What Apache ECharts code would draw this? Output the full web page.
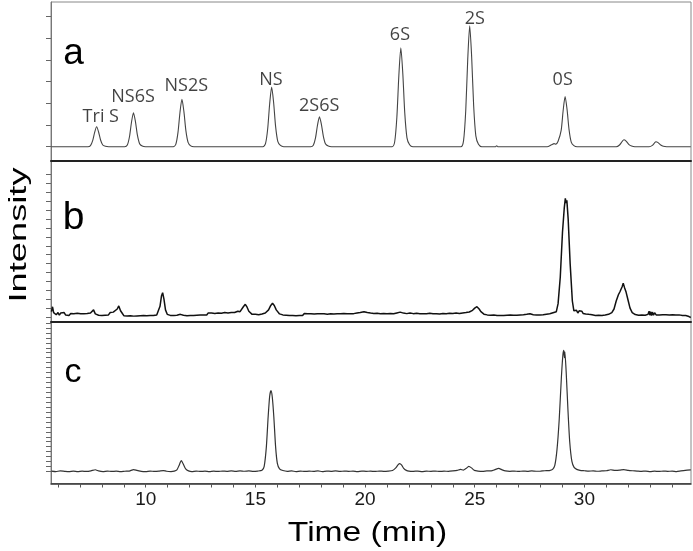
<!DOCTYPE html>
<html>
<head>
<meta charset="utf-8">
<script src="https://cdn.jsdelivr.net/npm/echarts@6.0.0/dist/echarts.min.js"></script>
<style>
html,body{margin:0;padding:0;background:#fff;}
#chart{width:693px;height:551px;}
</style>
</head>
<body>
<div id="chart"></div>
<script>
// ---- data (time in min, intensity in arbitrary units) ----
const xTickValues = [6,7,8,9,10,11,12,13,14,15,16,17,18,19,20,21,22,23,24,25,26,27,28,29,30,31,32,33,34];
const xTickLabels = [10,15,20,25,30];
const yTicksA = [0,10,20,30,40,50,60];
const yTicksB = [0,10,20,30,40,50,60,70,80,90,100,110,120,130,140,150,160];
const yTicksC = [0,5,10,15,20,25,30,35,40,45,50,55,60,65,70,75,80,85,90,95,100,105,110,115,120,125,130,135,140,145,150];

const peakNames  = ['Tri S','NS6S','NS2S','NS','2S6S','6S','2S','0S'];
const peakLabelT = [7.95,9.42,11.85,15.71,17.91,21.59,25.0,29.01];
const peakLabelV = [13.8,22.8,28.2,30.8,18.8,51.5,58.9,30.8];

const traceA = [
[5.7,0],[7.36,0],[7.48,0.5],[7.58,2.8],[7.67,6.6],[7.76,9.2],[7.85,6.8],[7.94,3.1],[8.04,0.8],[8.16,0.2],[8.31,0],
[9.04,0],[9.16,0.8],[9.26,4.7],[9.35,11.3],[9.44,15.7],[9.53,11.6],[9.62,5.3],[9.72,1.4],[9.84,0.3],[9.99,0],
[11.25,0],[11.37,1.1],[11.47,6.6],[11.56,15.8],[11.65,21.9],[11.74,16.2],[11.83,7.4],[11.93,2.0],[12.05,0.4],[12.2,0],
[15.34,0],[15.46,1.4],[15.56,8.3],[15.65,19.8],[15.74,27.5],[15.83,20.4],[15.92,9.4],[16.02,2.5],[16.14,0.6],[16.29,0],
[17.52,0],[17.64,0.7],[17.74,4.1],[17.83,9.9],[17.92,13.8],[18.01,10.2],[18.1,4.7],[18.2,1.2],[18.32,0.3],[18.47,0],
[21.23,0],[21.35,2.3],[21.45,13.7],[21.54,32.9],[21.63,45.7],[21.72,33.8],[21.81,15.5],[21.91,4.1],[22.03,0.9],[22.18,0],
[24.37,0],[24.49,2.8],[24.59,16.7],[24.68,40.2],[24.77,55.8],[24.86,41.3],[24.95,19.0],[25.05,5.0],[25.17,1.1],[25.32,0],
[25.95,0],[26.0,0.4],[26.05,0],
[28.3,0],[28.5,0.9],[28.62,1.4],[28.7,1.2],[28.8,2.5],[28.94,7.5],[29.03,16.6],[29.12,23.1],[29.21,17.1],[29.3,7.9],[29.4,2.1],[29.52,0.5],[29.67,0],
[31.45,0],[31.6,0.8],[31.72,2.4],[31.8,3.2],[31.9,2.6],[32.02,1.1],[32.15,0.3],[32.3,0],
[32.95,0],[33.1,0.6],[33.2,1.8],[33.26,2.3],[33.36,1.9],[33.48,0.8],[33.6,0.2],[33.75,0],[34.85,0]
];

const traceB = [
[5.7,6],[5.75,11.5],[5.8,5],[5.86,7],[5.92,2.5],[6.0,5],[6.06,2],[6.12,4.5],[6.2,3],[6.28,5],[6.35,2.2],[6.42,4.4],[6.5,1.6],[6.58,4],[6.65,2.4],[6.72,3.8],[6.8,1.8],[6.88,4.2],[6.95,2],[7.03,3.6],[7.1,1.5],[7.18,3.8],[7.25,2],[7.33,4],[7.4,2.2],[7.48,4.5],[7.55,6],[7.62,8],[7.7,3.5],[7.77,4.5],[7.85,2],[7.92,4],[8.0,1.6],[8.08,3.6],[8.15,2],[8.23,4.2],[8.3,2.4],[8.38,5],[8.45,3.2],[8.52,5.5],[8.6,5],[8.7,9],[8.77,12.5],[8.85,7],[8.92,4.5],[9.0,1.5],[9.08,3.5],[9.15,1.2],[9.23,3.2],[9.3,1.4],[9.38,3],[9.45,1],[9.53,2.8],[9.6,1.2],[9.68,3.2],[9.75,1.4],[9.83,3],[9.9,1.6],[9.98,3.4],[10.05,1.5],[10.13,3.2],[10.2,1.8],[10.28,3.6],[10.35,1.6],[10.43,3.4],[10.5,2.2],[10.58,4],[10.65,12],[10.72,24],[10.77,27.3],[10.83,20],[10.9,8],[10.98,3],[11.05,4.2],[11.12,1.8],[11.2,3.6],[11.28,1.6],[11.35,3.8],[11.42,2],[11.5,4],[11.58,3],[11.65,5],[11.72,2],[11.8,3.5],[11.88,1.4],[11.95,3.2],[12.03,1.6],[12.1,3.4],[12.18,1.8],[12.25,3.8],[12.33,2],[12.4,3.6],[12.48,2.2],[12.55,4],[12.63,2.4],[12.7,3.8],[12.78,2.2],[12.85,4.6],[12.93,3.2],[13.0,4.4],[13.08,2.4],[13.15,4],[13.23,2.6],[13.3,4.6],[13.38,2.8],[13.45,4.2],[13.53,3],[13.6,5],[13.68,3],[13.75,4.6],[13.83,3.2],[13.9,5.2],[13.98,3.6],[14.05,5],[14.13,4],[14.2,6.5],[14.3,6],[14.38,8],[14.45,11.5],[14.54,14.3],[14.62,11],[14.7,6.5],[14.78,5],[14.85,3],[14.93,4.6],[15.0,3],[15.08,4.4],[15.15,2.6],[15.23,4.4],[15.3,3.4],[15.38,5],[15.45,4.5],[15.53,6],[15.6,8],[15.7,13],[15.78,15.4],[15.86,13],[15.95,8],[16.02,6],[16.1,3.5],[16.18,4.6],[16.25,2.4],[16.33,4],[16.4,2],[16.48,3.6],[16.55,1.6],[16.63,3.8],[16.7,1.8],[16.78,3.4],[16.85,1.4],[16.93,3.6],[17.0,1.8],[17.08,3.2],[17.15,1.6],[17.23,4],[17.3,2],[17.38,3.6],[17.45,1.6],[17.53,3.8],[17.6,1.8],[17.68,3.4],[17.75,1.4],[17.83,3.8],[17.9,2],[17.98,3.6],[18.05,1.8],[18.13,3.6],[18.2,1.6],[18.28,3.2],[18.35,1.6],[18.43,3.6],[18.5,1.8],[18.58,3.4],[18.65,2],[18.73,3.8],[18.8,2],[18.88,3.6],[18.95,2.2],[19.03,4],[19.1,2.2],[19.18,3.8],[19.25,2.4],[19.33,3.6],[19.4,2],[19.48,3.8],[19.55,2.6],[19.63,4.4],[19.7,3.4],[19.78,5],[19.85,4.6],[19.95,6],[20.03,4],[20.1,5],[20.18,3],[20.25,4.4],[20.33,2.6],[20.4,4],[20.48,2.4],[20.55,4.2],[20.63,2.2],[20.7,3.6],[20.78,2],[20.85,4],[20.93,2.4],[21.0,3.8],[21.08,2.2],[21.15,4],[21.23,2.4],[21.3,3.6],[21.38,3],[21.45,4.6],[21.53,4],[21.6,5.5],[21.68,3.5],[21.75,4.4],[21.83,2.4],[21.9,3.8],[21.98,3],[22.05,4.6],[22.13,2.6],[22.2,3.8],[22.28,2.4],[22.35,4.2],[22.43,2.4],[22.5,3.8],[22.58,2.2],[22.65,3.8],[22.73,2.2],[22.8,3.6],[22.88,2.4],[22.95,4.2],[23.03,2.6],[23.1,3.8],[23.18,2.4],[23.25,3.8],[23.33,2],[23.4,3.4],[23.48,2.2],[23.55,4],[23.63,2.4],[23.7,3.6],[23.78,2.6],[23.85,4.2],[23.93,2.8],[24.0,4],[24.08,2.8],[24.15,4.4],[24.23,3],[24.3,4],[24.38,3.2],[24.45,4.6],[24.53,3.6],[24.6,5],[24.68,4.4],[24.75,5.6],[24.83,5.5],[24.9,7.5],[25.0,10],[25.1,11.6],[25.2,9],[25.28,6],[25.35,5],[25.42,3.2],[25.5,4.4],[25.57,2.4],[25.65,3.8],[25.72,2],[25.8,3.6],[25.87,2.2],[25.95,3.4],[26.02,1.6],[26.1,3.4],[26.17,1.8],[26.25,3.6],[26.32,1.6],[26.4,3.4],[26.47,2],[26.55,3.8],[26.62,2.2],[26.7,3.6],[26.77,2],[26.85,3.4],[26.92,2],[27.0,3.8],[27.07,2.4],[27.15,4],[27.22,2.6],[27.3,4.2],[27.37,3],[27.45,4.6],[27.52,3.6],[27.6,4.4],[27.67,2.6],[27.75,3.8],[27.82,2.2],[27.9,3.8],[27.97,2.4],[28.05,3.6],[28.12,2.6],[28.2,4],[28.27,3.2],[28.35,4.6],[28.42,3.6],[28.5,5.5],[28.57,4.8],[28.65,6.5],[28.72,6],[28.8,15],[28.9,45],[29.0,95],[29.08,122],[29.13,133.4],[29.17,128],[29.2,131],[29.26,110],[29.35,60],[29.45,18],[29.52,7],[29.58,5],[29.64,7.5],[29.7,4.5],[29.76,7],[29.82,5],[29.88,6.5],[29.94,4],[30.0,6],[30.06,3.5],[30.12,5.5],[30.2,3],[30.28,5],[30.35,2.5],[30.43,4],[30.5,1.8],[30.58,3.6],[30.65,2],[30.73,3.6],[30.8,1.8],[30.88,3.4],[30.95,2.2],[31.03,3.8],[31.1,3],[31.18,4.6],[31.25,5],[31.35,9],[31.45,18],[31.55,25],[31.62,28.4],[31.67,27],[31.72,34],[31.77,37.9],[31.83,33],[31.9,28],[31.98,20],[32.08,10],[32.18,5],[32.25,5],[32.32,2.8],[32.4,4.2],[32.47,2],[32.55,3.8],[32.62,2.2],[32.7,3.8],[32.77,2],[32.85,4],[32.9,3],[32.95,6.5],[32.98,2],[33.02,6],[33.06,1.5],[33.1,5.5],[33.15,2],[33.2,4.8],[33.27,2.4],[33.35,4],[33.42,2.4],[33.5,3.8],[33.57,2.6],[33.65,4],[33.72,2.6],[33.8,3.8],[33.87,2.4],[33.95,4],[34.02,2.6],[34.1,3.6],[34.17,2.2],[34.25,3.8],[34.32,2.4],[34.4,3.4],[34.47,1.8],[34.55,3.2],[34.62,1.6],[34.7,2.4],[34.77,0.5],[34.85,-0.5]
];

const traceC = [
[5.7,0.3],[5.9,-0.2],[6.1,0.4],[6.3,0],[6.5,-0.3],[6.7,0.3],[6.9,-0.2],[7.1,0.2],[7.3,-0.1],[7.5,0.5],[7.7,1.6],[7.85,0.4],[8.05,-0.2],[8.25,0.3],[8.45,-0.1],[8.65,0.2],[8.85,-0.3],[9.05,0.1],[9.25,0.3],[9.45,1.8],[9.6,1],[9.8,0],[10.0,-0.2],[10.2,0.3],[10.4,-0.1],[10.6,0.2],[10.8,0.8],[10.95,0.1],[11.15,-0.2],[11.3,0.2],[11.42,1.5],[11.52,6],[11.62,10.8],[11.72,7],[11.82,2.5],[11.95,0.5],[12.1,-0.2],[12.3,0.3],[12.5,-0.1],[12.7,0.2],[12.9,-0.3],[13.1,0.2],[13.3,-0.1],[13.5,0.3],[13.7,0],[13.9,0.4],[14.1,0],[14.3,0.5],[14.5,0.1],[14.7,0.4],[14.9,0],[15.1,0.3],[15.3,1],[15.4,5],[15.5,25],[15.58,55],[15.65,76],[15.71,81.7],[15.77,75],[15.84,55],[15.92,25],[16.0,8],[16.1,2.5],[16.25,0.8],[16.45,0],[16.65,0.4],[16.85,-0.2],[17.05,0.3],[17.25,-0.1],[17.45,0.2],[17.65,0],[17.85,0.4],[18.05,-0.2],[18.25,0.3],[18.45,0],[18.65,0.4],[18.85,-0.1],[19.05,0.3],[19.25,0],[19.45,0.2],[19.65,-0.2],[19.85,0.3],[20.05,0],[20.25,0.2],[20.45,-0.1],[20.65,0.3],[20.85,0],[21.05,0.2],[21.25,0.8],[21.4,3.5],[21.5,6.5],[21.58,7.8],[21.66,6.5],[21.76,3],[21.88,1],[22.0,0.2],[22.2,0],[22.4,0.3],[22.6,-0.2],[22.8,0.2],[23.0,0],[23.2,0.3],[23.4,-0.1],[23.6,0.2],[23.8,0],[24.0,0.4],[24.2,1],[24.35,2],[24.48,1.2],[24.6,2.8],[24.73,5],[24.85,3.5],[24.98,1],[25.15,0.3],[25.35,0],[25.55,0.4],[25.75,0.5],[25.9,1.5],[26.09,3],[26.25,1.5],[26.4,0.4],[26.6,0],[26.8,0.3],[27.0,-0.1],[27.2,0.3],[27.4,0],[27.6,0.4],[27.8,0.1],[28.0,0.3],[28.2,0.6],[28.4,0.8],[28.55,2],[28.65,6],[28.75,22],[28.85,52],[28.95,95],[29.02,118],[29.06,122.5],[29.09,115],[29.11,121],[29.17,100],[29.25,62],[29.33,30],[29.43,10],[29.53,4],[29.65,2],[29.8,1],[30.0,0.6],[30.2,0.2],[30.4,0.5],[30.6,0.1],[30.8,0.4],[31.0,0.6],[31.2,1.6],[31.4,1],[31.6,1.2],[31.8,1.8],[32.0,1],[32.2,0.6],[32.4,0.3],[32.6,0],[32.8,0.3],[33.0,-0.2],[33.2,0.2],[33.4,-0.1],[33.6,0.3],[33.8,0],[34.0,0.2],[34.2,-0.3],[34.4,0.4],[34.6,1],[34.85,1.5]
];

// ---- chart ----
const X_MIN = 5.68, X_MAX = 34.86;
const chart = echarts.init(document.getElementById('chart'), null, {renderer: 'canvas'});

function xAxisFor(idx, bottom) {
  return {
    type: 'value', gridIndex: idx, min: X_MIN, max: X_MAX, position: 'bottom',
    axisLine: {show: true, onZero: false, lineStyle: {color: bottom ? '#333' : '#222', width: bottom ? 1.5 : 2}},
    axisTick: bottom ? {show: true, length: 4, lineStyle: {color: '#555', width: 1}, customValues: xTickValues} : {show: false},
    axisLabel: bottom ? {show: true, customValues: xTickLabels, fontSize: 19, color: '#1a1a1a',
      fontFamily: 'Liberation Sans, Arial, sans-serif', margin: 7} : {show: false},
    splitLine: {show: false}
  };
}
function yAxisFor(idx, min, max, ticks) {
  return {
    type: 'value', gridIndex: idx, min: min, max: max,
    axisLine: {show: true, lineStyle: {color: '#777', width: 1}},
    axisTick: {show: true, length: 5, inside: false, lineStyle: {color: '#666', width: 1}, customValues: ticks},
    axisLabel: {show: false},
    splitLine: {show: false}
  };
}

const option = {
  animation: false,
  backgroundColor: '#fff',
  grid: [
    {left: 51, right: 2, top: 2, height: 159, show: true, borderColor: '#888', borderWidth: 1},
    {left: 51, right: 2, top: 161, height: 161, show: true, borderColor: '#888', borderWidth: 1},
    {left: 51, right: 2, top: 322, height: 161.5, show: true, borderColor: '#888', borderWidth: 1}
  ],
  xAxis: [xAxisFor(0, false), xAxisFor(1, false), xAxisFor(2, true)],
  yAxis: [
    yAxisFor(0, -6.6, 66.8, yTicksA),
    yAxisFor(1, -5.6, 175.3, yTicksB),
    yAxisFor(2, -12.3, 151.1, yTicksC)
  ],
  series: [
    {type: 'line', xAxisIndex: 0, yAxisIndex: 0, data: traceA, showSymbol: false, smooth: 0.25,
     lineStyle: {color: '#444', width: 1.1}},
    {type: 'line', xAxisIndex: 1, yAxisIndex: 1, data: traceB, showSymbol: false, smooth: false,
     lineStyle: {color: '#111', width: 1.5}},
    {type: 'line', xAxisIndex: 2, yAxisIndex: 2, data: traceC, showSymbol: false, smooth: 0.2,
     lineStyle: {color: '#333', width: 1.2}},
    {type: 'scatter', xAxisIndex: 0, yAxisIndex: 0, symbolSize: 1, itemStyle: {color: 'rgba(0,0,0,0)'},
     data: peakNames.map((n, i) => [peakLabelT[i], peakLabelV[i], n]),
     label: {show: true, position: 'inside', formatter: p => p.value[2], fontSize: 18, color: '#111',
       fontFamily: 'Open Sans, Noto Sans, sans-serif'}}
  ],
  graphic: [
    {type: 'text', x: 73.5, y: 54, style: {text: 'a', fontSize: 37, fontFamily: 'Liberation Sans, Arial, sans-serif', fill: '#000', align: 'center', verticalAlign: 'middle'}},
    {type: 'text', x: 73.5, y: 218, style: {text: 'b', fontSize: 39, fontFamily: 'Liberation Sans, Arial, sans-serif', fill: '#000', align: 'center', verticalAlign: 'middle'}},
    {type: 'text', x: 73, y: 373, style: {text: 'c', fontSize: 34, fontFamily: 'Liberation Sans, Arial, sans-serif', fill: '#000', align: 'center', verticalAlign: 'middle'}},
    {type: 'text', x: 20, y: 235, rotation: Math.PI / 2, scaleX: 1.65, scaleY: 1.05,
     style: {text: 'Intensity', fontSize: 22, fontFamily: 'Liberation Sans, Arial, sans-serif', fill: '#000', align: 'center', verticalAlign: 'middle'}},
    {type: 'text', x: 367.5, y: 533, scaleX: 1.2, scaleY: 1,
     style: {text: 'Time (min)', fontSize: 28, fontFamily: 'Liberation Sans, Arial, sans-serif', fill: '#000', align: 'center', verticalAlign: 'middle'}}
  ]
};
chart.setOption(option);
</script>
</body>
</html>
